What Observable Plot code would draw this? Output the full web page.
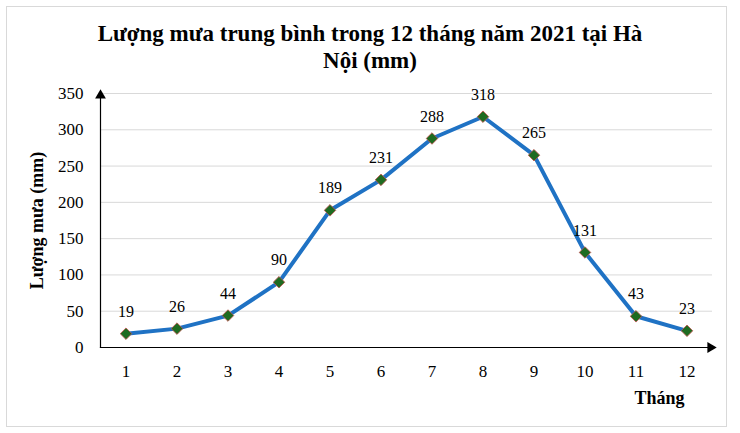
<!DOCTYPE html>
<html>
<head>
<meta charset="utf-8">
<script src="https://cdn.jsdelivr.net/npm/d3@7"></script>
<script src="https://cdn.jsdelivr.net/npm/@observablehq/plot@0.6"></script>
<style>
  body { margin: 0; background: #fff; }
  #wrap { position: relative; width: 740px; height: 433px; overflow: hidden; font-family: "Liberation Serif", "Times New Roman", serif; }
  #border { position: absolute; left: 6px; top: 6px; width: 721px; height: 421px; border: 1px solid #d9d9d9; box-sizing: border-box; pointer-events: none; }
  #title { height: 55px; padding-top: 20px; text-align: center; font-weight: bold; font-size: 23px; line-height: 27px; color: #000; }
  #title div { width: 740px; }
</style>
</head>
<body>
<div id="wrap">
  <div id="border"></div>
  <div id="title"><div>Lượng mưa trung bình trong 12 tháng năm 2021 tại Hà</div><div>Nội (mm)</div></div>
  <div id="chart"></div>
</div>
<script>
const months = [1, 2, 3, 4, 5, 6, 7, 8, 9, 10, 11, 12];
const rainfall = [19, 26, 44, 90, 189, 231, 288, 318, 265, 131, 43, 23];
const yTicks = [0, 50, 100, 150, 200, 250, 300, 350];
const yTitle = "Lượng mưa (mm)";
const xTitle = "Tháng";

const data = months.map((m, i) => ({month: m, value: rainfall[i]}));
const serif = '"Liberation Serif", "Times New Roman", serif';

const chart = Plot.plot({
  width: 740,
  height: 358,
  marginLeft: 100,
  marginRight: 28,
  marginTop: 18,
  marginBottom: 86,
  style: {fontFamily: serif, fontSize: "17px", color: "#000", background: "transparent", overflow: "visible"},
  x: {type: "point", domain: months, padding: 0.5, round: false},
  y: {domain: [0, 350], ticks: yTicks},
  marks: [
    Plot.gridY(yTicks, {stroke: "#d9d9d9", strokeOpacity: 1, strokeWidth: 1}),
    Plot.axisY(yTicks, {tickSize: 0, tickPadding: 17, label: null, fontSize: 17}),
    Plot.axisX(months, {tickSize: 0, tickPadding: 17, label: null, fontSize: 17}),
    Plot.frame({anchor: "left", stroke: "#000", strokeWidth: 1.2}),
    Plot.frame({anchor: "bottom", stroke: "#000", strokeWidth: 1.2}),
    Plot.dot([0], {frameAnchor: "top-left", symbol: "triangle", r: 4, fill: "#000", stroke: "none", dy: 2}),
    Plot.dot([0], {frameAnchor: "bottom-right", symbol: "triangle", r: 4, fill: "#000", stroke: "none", rotate: 90, dx: -2}),
    Plot.line(data, {x: "month", y: "value", stroke: "#1f72c4", strokeWidth: 4, strokeLinejoin: "round"}),
    Plot.dot(data, {x: "month", y: "value", symbol: "diamond2", r: 5.2, fill: "#1e6b21", stroke: "#c0504d", strokeWidth: 0.8}),
    Plot.text(data, {x: "month", y: "value", text: d => String(d.value), dy: -22, fontSize: 16, fill: "#000"}),
    Plot.text([yTitle], {frameAnchor: "left", textAnchor: "middle", rotate: -90, dx: -63, fontWeight: "bold", fontSize: 18, fill: "#000"}),
    Plot.text([xTitle], {frameAnchor: "bottom-right", textAnchor: "middle", dx: -53, dy: 56, fontWeight: "bold", fontSize: 18, fill: "#000"})
  ]
});
document.getElementById("chart").appendChild(chart);
</script>
</body>
</html>
